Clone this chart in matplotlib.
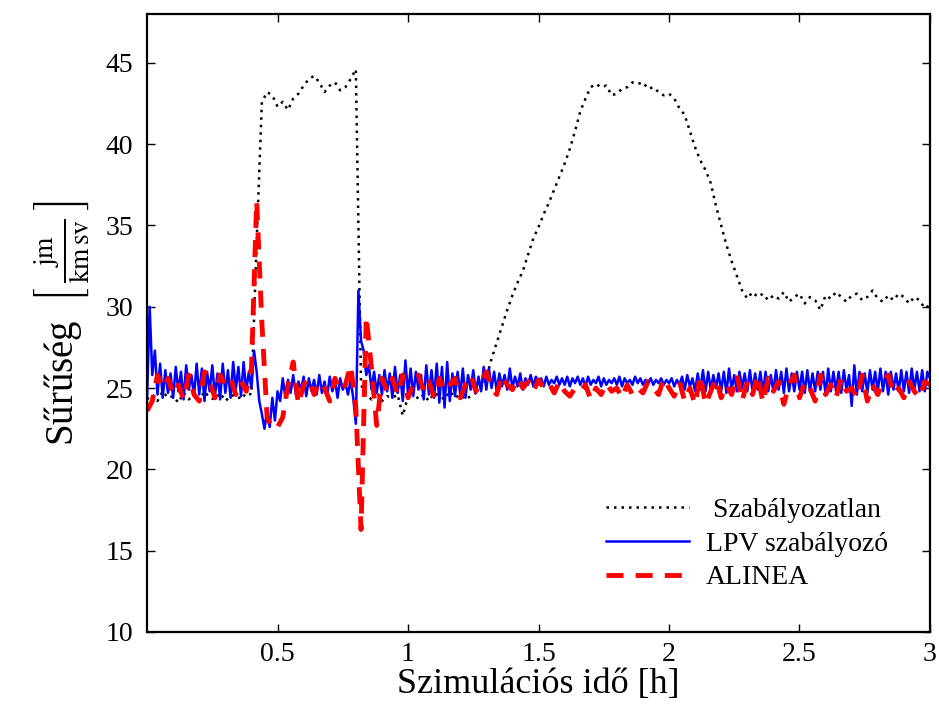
import numpy as np
import matplotlib
matplotlib.use('Agg')
from matplotlib import pyplot as plt

plt.rcParams['font.family'] = ['Liberation Serif', 'DejaVu Serif']
plt.rcParams['mathtext.fontset'] = 'stix'

# time grids [h]
t_fine = np.arange(301) * 0.01
t_coarse = np.arange(151) * 0.02

# LPV szabályozó, 0.01 h steps
lpv = [
    24.3, 30.0, 25.8, 27.3, 24.6, 26.5, 24.4, 26.1, 24.7, 25.9,
    24.4, 26.3, 24.8, 26.0, 24.3, 26.4, 24.9, 25.8, 24.5, 26.5,
    24.6, 26.2, 24.2, 26.0, 24.8, 26.4, 24.5, 25.9, 24.3, 26.5,
    24.7, 26.1, 24.4, 26.6, 24.9, 26.3, 24.5, 26.6, 24.8, 26.0,
    25.0, 27.3, 26.0, 24.2, 23.4, 22.5, 23.6, 22.6, 24.4, 23.0,
    24.8, 24.2, 25.6, 24.4, 25.5, 24.7, 25.8, 24.6, 25.4, 24.9,
    25.7, 24.5, 25.6, 24.8, 25.5, 24.6, 25.8, 24.7, 25.4, 24.5,
    25.7, 24.8, 25.5, 24.4, 25.6, 24.9, 25.3, 24.6, 25.5, 24.4,
    22.8, 31.0, 27.9, 27.3, 25.8, 26.4, 24.9, 26.0, 24.7, 25.8,
    24.6, 26.1, 24.8, 25.9, 24.4, 26.3, 24.7, 25.8, 24.2, 26.7,
    24.6, 26.2, 24.5, 26.0, 24.9, 25.8, 24.3, 26.4, 24.6, 26.1,
    24.4, 26.5, 24.1, 26.3, 23.8, 26.6, 24.2, 25.9, 24.5, 26.0,
    24.6, 26.2, 24.4, 25.8, 24.9, 26.1, 24.7, 25.7, 24.8, 26.3,
    24.9, 26.2, 25.0, 26.0, 24.8, 25.9, 25.1, 25.8, 24.9, 26.2,
    25.0, 25.7, 25.1, 25.9, 24.9, 25.6, 25.2, 25.8, 25.1, 25.7,
    25.2, 25.6, 25.1, 25.7, 25.2, 25.5, 25.3, 25.7, 25.2, 25.6,
    25.2, 25.7, 25.1, 25.6, 25.3, 25.7, 25.2, 25.6, 25.1, 25.7,
    25.2, 25.5, 25.3, 25.7, 25.1, 25.6, 25.2, 25.5, 25.3, 25.6,
    25.2, 25.7, 25.1, 25.6, 25.3, 25.5, 25.2, 25.7, 25.3, 25.6,
    25.2, 25.5, 25.3, 25.6, 25.2, 25.5, 25.3, 25.6, 25.2, 25.5,
    25.3, 25.6, 25.1, 25.5, 25.2, 25.7, 24.9, 25.8, 25.1, 25.6,
    24.8, 25.9, 24.9, 26.1, 24.8, 26.0, 24.9, 25.8, 25.0, 25.9,
    24.8, 26.0, 24.7, 26.2, 24.9, 25.8, 24.8, 26.0, 25.0, 25.9,
    24.8, 26.1, 24.8, 25.9, 24.9, 26.0, 24.7, 26.0, 24.8, 25.8,
    24.8, 26.1, 24.9, 26.0, 24.7, 26.2, 24.8, 25.9, 24.8, 26.0,
    24.9, 26.0, 24.7, 26.1, 24.8, 25.9, 24.8, 26.0, 24.9, 26.0,
    24.6, 26.2, 24.8, 26.0, 24.8, 26.0, 24.7, 26.1, 24.9, 25.8,
    23.9, 26.4, 24.6, 26.0, 24.8, 25.9, 24.7, 26.1, 24.9, 26.0,
    24.8, 26.2, 24.8, 26.0, 24.6, 26.0, 24.9, 25.9, 24.8, 26.1,
    24.8, 26.0, 24.7, 26.2, 24.9, 26.0, 24.8, 26.1, 24.8, 26.0,
    25.6,
]

# ALINEA, 0.02 h steps
alinea = [
    23.6, 24.2, 25.8, 25.0, 25.6, 24.6, 25.2, 24.3, 25.8, 24.6,
    24.2, 26.0, 25.4, 24.4, 25.8, 25.2, 25.6, 24.6, 25.4, 24.8,
    26.2, 36.5, 29.0, 23.2, 22.5, 22.6, 23.2, 25.2, 26.6, 24.0,
    25.2, 25.6, 24.6, 25.4, 25.0, 24.2, 25.6, 24.8, 25.2, 26.4,
    23.8, 16.3, 29.4, 26.2, 22.7, 25.6, 24.8, 25.6, 24.6, 25.8,
    24.4, 25.2, 25.8, 24.8, 25.4, 24.4, 25.6, 24.8, 25.2, 25.6,
    24.4, 25.2, 25.8, 24.8, 25.4, 26.0, 25.0, 24.6, 25.8, 25.2,
    24.9, 25.6, 25.0, 25.4, 24.8, 25.5, 25.0, 25.3, 24.7, 25.4,
    24.8, 24.5, 25.0, 24.8, 25.2, 24.3, 25.0, 24.6, 25.3, 24.8,
    25.0, 24.4, 25.2, 24.6, 25.0, 24.7, 25.4, 25.0, 24.6, 25.6,
    25.0, 24.5, 25.4, 24.2, 25.0, 24.0, 25.8, 24.0, 24.8, 25.6,
    24.4, 25.2, 24.6, 25.8, 24.2, 25.4, 24.6, 25.8, 24.1, 25.6,
    24.8, 25.4, 24.0, 25.2, 25.8, 24.4, 25.4, 25.0, 24.2, 25.8,
    24.6, 25.2, 24.4, 25.6, 24.8, 25.0, 24.4, 25.8, 24.2, 25.2,
    24.6, 25.4, 25.8, 24.6, 25.0, 24.4, 25.4, 24.8, 24.4, 25.4,
    25.2,
]

# Szabályozatlan, 0.02 h steps
uncontrolled = [
    24.3, 24.6, 24.2, 24.8, 24.4, 24.5, 24.1, 24.7, 24.3, 24.6,
    24.2, 24.8, 24.4, 24.3, 24.7, 24.2, 24.5, 24.6, 24.3, 24.7,
    24.6, 34.0, 42.6, 43.2, 43.0, 42.3, 42.6, 42.1, 42.8, 43.1,
    43.6, 44.0, 44.2, 43.8, 43.2, 43.6, 43.8, 43.3, 43.5, 44.0,
    44.6, 25.2, 24.6, 24.3, 24.8, 24.2, 24.5, 24.4, 24.6, 23.3,
    24.5, 24.8, 24.3, 24.6, 24.2, 24.7, 24.5, 24.3, 24.8, 24.4,
    24.6, 24.3, 24.5, 24.7, 25.0, 25.6, 26.8, 27.8, 28.8, 29.8,
    30.7, 31.5, 32.2, 33.2, 34.2, 34.9, 35.7, 36.4, 37.2, 38.0,
    38.8, 39.7, 40.8, 42.0, 42.8, 43.5, 43.7, 43.5, 43.6, 43.0,
    43.1, 43.4, 43.5, 43.8, 43.7, 43.8, 43.4, 43.5, 43.2, 43.0,
    43.1, 42.8, 42.2, 41.8, 40.8, 39.8, 39.0, 38.4, 37.6, 36.2,
    35.0, 33.8, 32.8, 31.9, 31.0, 30.5, 30.9, 30.6, 30.8, 30.4,
    30.7, 30.5, 30.9, 30.3, 30.6, 30.8, 30.2, 30.6, 30.4, 29.8,
    30.7, 30.5, 30.9, 30.6, 30.3, 30.7, 30.8, 30.4, 30.6, 31.0,
    30.5, 30.3, 30.7, 30.4, 30.8, 30.6, 30.2, 30.6, 30.4, 29.9,
    30.1,
]

xticks = [0.5, 1, 1.5, 2, 2.5, 3]
xticklabels = ['0.5', '1', '1.5', '2', '2.5', '3']
yticks = [10, 15, 20, 25, 30, 35, 40, 45]

fig = plt.figure(figsize=(9.39, 7.04), dpi=100)
ax = fig.add_axes([0.1566, 0.1023, 0.8338, 0.8778])

ax.plot(t_coarse, uncontrolled, color='black', linestyle=(0, (1, 2)),
        linewidth=1.8, label=' Szabályozatlan')
ax.plot(t_fine, lpv, color='blue', linestyle='-', linewidth=1.8,
        label='LPV szabályozó')
ax.plot(t_coarse, alinea, color='red', linestyle=(0, (3.5, 2.5)),
        linewidth=3.5, label='ALINEA')

ax.set_xlim(0, 3)
ax.set_ylim(10, 48)
ax.set_xticks(xticks)
ax.set_xticklabels(xticklabels)
ax.set_yticks(yticks)
ax.tick_params(direction='in', length=6, width=1, labelsize=20,
               top=True, right=True, pad=10)
ax.tick_params(axis='x', pad=7)
for sp in ax.spines.values():
    sp.set_linewidth(1.6)

ax.set_xlabel('Szimulációs idő [h]', fontsize=26, labelpad=1)
ax.set_ylabel(r'Sűrűség  $\left[\,\frac{\mathrm{jm}}{\mathrm{km\,sv}}\,\right]$',
              fontsize=28, labelpad=10)

ax.legend(loc='lower right', bbox_to_anchor=(0.978, 0.027), frameon=False,
          fontsize=20, handlelength=3.0, labelspacing=0.3, handletextpad=0.6)

fig.savefig('out.png', dpi=100)
